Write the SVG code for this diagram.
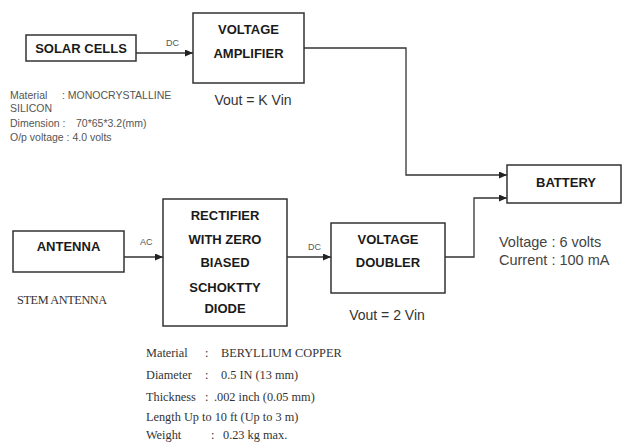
<svg xmlns="http://www.w3.org/2000/svg" width="623" height="443" viewBox="0 0 623 443">
<defs>
<marker id="ah" markerUnits="userSpaceOnUse" markerWidth="8" markerHeight="7" refX="8" refY="3.5" orient="auto">
<path d="M0,0 L8,3.5 L0,7 z" fill="#222"/>
</marker>
<style>
.box{fill:#fff;stroke:#333;stroke-width:1.5}
.bt{font-family:"Liberation Sans",Arial,sans-serif;font-weight:bold;font-size:13px;fill:#1a1a1a;text-anchor:middle}
.eq{font-family:"Liberation Sans",Arial,sans-serif;font-size:14px;fill:#333;text-anchor:middle}
.sm{font-family:"Liberation Sans",Arial,sans-serif;font-size:10.5px;fill:#555}
.lb{font-family:"Liberation Sans",Arial,sans-serif;font-size:9px;fill:#555}
.bat{font-family:"Liberation Sans",Arial,sans-serif;font-size:14.5px;fill:#444}
.sf{font-family:"Liberation Serif","Times New Roman",serif;font-size:12.3px;fill:#333}
.cn{fill:none;stroke:#333;stroke-width:1.3}
</style>
</defs>
<rect width="623" height="443" fill="#fff"/>
<g id="connectors">
<line class="cn" x1="136" y1="53" x2="193" y2="53" marker-end="url(#ah)"/>
<polyline class="cn" points="304,48 406,48 406,175 507,175" marker-end="url(#ah)"/>
<line class="cn" x1="124" y1="257" x2="163" y2="257" marker-end="url(#ah)"/>
<line class="cn" x1="287" y1="257" x2="331" y2="257" marker-end="url(#ah)"/>
<polyline class="cn" points="445,257 474,257 474,198 507,198" marker-end="url(#ah)"/>
<text class="lb" x="166" y="46">DC</text>
<text class="lb" x="140" y="245">AC</text>
<text class="lb" x="308" y="250">DC</text>
</g>
<g id="solar">
<rect class="box" x="26" y="35" width="110" height="26"/>
<text class="bt" x="81" y="52.5">SOLAR CELLS</text>
<text class="sm" x="10" y="99">Material</text>
<text class="sm" x="62" y="99">: MONOCRYSTALLINE</text>
<text class="sm" x="10" y="111.5">SILICON</text>
<text class="sm" x="10" y="126.5">Dimension :</text>
<text class="sm" x="76" y="126.5">70*65*3.2(mm)</text>
<text class="sm" x="10" y="140.5">O/p voltage : 4.0 volts</text>
</g>
<g id="amplifier">
<rect class="box" x="193" y="13" width="111" height="70"/>
<text class="bt" x="248.5" y="34">VOLTAGE</text>
<text class="bt" x="248.5" y="58">AMPLIFIER</text>
<text class="eq" x="253" y="105">Vout = K Vin</text>
</g>
<g id="battery">
<rect class="box" x="507" y="165" width="114" height="38"/>
<text class="bt" x="566" y="187">BATTERY</text>
<text class="bat" x="499" y="247">Voltage :  6 volts</text>
<text class="bat" x="499" y="265">Current  : 100 mA</text>
</g>
<g id="antenna">
<rect class="box" x="13" y="231" width="111" height="41"/>
<text class="bt" x="68.5" y="251">ANTENNA</text>
<text class="sf" x="17" y="304" font-size="12" letter-spacing="-0.4">STEM ANTENNA</text>
</g>
<g id="rectifier">
<rect class="box" x="163" y="199" width="124" height="127"/>
<text class="bt" x="225" y="220">RECTIFIER</text>
<text class="bt" x="225" y="244">WITH ZERO</text>
<text class="bt" x="225" y="267">BIASED</text>
<text class="bt" x="225" y="292">SCHOKTTY</text>
<text class="bt" x="225" y="313">DIODE</text>
<text class="sf" x="146" y="357">Material</text><text class="sf" x="205" y="357">:</text><text class="sf" x="221" y="357">BERYLLIUM COPPER</text>
<text class="sf" x="146" y="379">Diameter</text><text class="sf" x="205" y="379">:</text><text class="sf" x="221" y="379">0.5 IN (13 mm)</text>
<text class="sf" x="146" y="400.5">Thickness</text><text class="sf" x="205" y="400.5">:</text><text class="sf" x="214" y="400.5">.002 inch (0.05 mm)</text>
<text class="sf" x="146" y="421">Length Up to 10 ft (Up to 3 m)</text>
<text class="sf" x="146" y="439">Weight</text><text class="sf" x="211" y="439">:</text><text class="sf" x="223" y="439">0.23 kg max.</text>
</g>
<g id="doubler">
<rect class="box" x="331" y="223" width="114" height="70"/>
<text class="bt" x="388" y="244">VOLTAGE</text>
<text class="bt" x="388" y="267">DOUBLER</text>
<text class="eq" x="387" y="320">Vout = 2 Vin</text>
</g>
</svg>
